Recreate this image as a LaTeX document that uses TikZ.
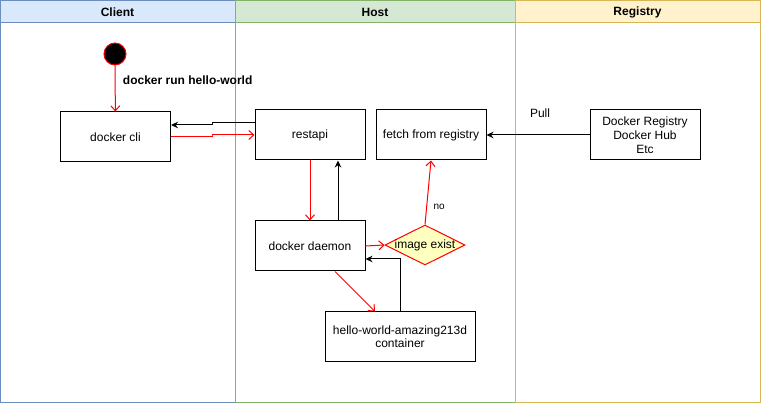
\documentclass[tikz,border=0pt]{standalone}
\usepackage{fontspec}
\setmainfont{Liberation Sans}
\usetikzlibrary{arrows.meta,positioning,shapes.geometric}
\definecolor{clientfill}{HTML}{DAE8FC}
\definecolor{clientline}{HTML}{6C8EBF}
\definecolor{hostfill}{HTML}{D5E8D4}
\definecolor{hostline}{HTML}{82B366}
\definecolor{regfill}{HTML}{FFF2CC}
\definecolor{regline}{HTML}{D6B656}
\definecolor{decfill}{HTML}{FFFFC0}

\begin{document}
\begin{tikzpicture}[x=1pt,y=-1pt,line width=1pt,
                    font=\fontsize{12}{14}\selectfont]
  \tikzstyle{box}=[draw=black,fill=white,minimum width=110pt,minimum height=50pt,
                   inner sep=2pt,align=center]
  \tikzstyle{head}=[font=\fontsize{12}{14}\selectfont\bfseries]
  \tikzstyle{go}=[draw=red,-{Straight Barb[length=5pt,width=9pt]}]
  \tikzstyle{back}=[draw=black,-{Stealth[length=7pt,width=6.5pt]}]

  \useasboundingbox (0,0) rectangle (761,403);

  % swimlanes
  \draw[clientline,fill=white] (0.5,0.5) rectangle (235,402.5);
  \draw[clientline,fill=clientfill] (0.5,0.5) rectangle (235,23);
  \draw[hostline,fill=white] (235,0.5) rectangle (515,402.5);
  \draw[hostline,fill=hostfill] (235,0.5) rectangle (515,23);
  \draw[regline,fill=white] (515,0.5) rectangle (760.5,402.5);
  \draw[regline,fill=regfill] (515,0.5) rectangle (760.5,23);
  \node[head] (clienthead) at (117.5,12) {Client};
  \node[head] (hosthead)   at (375,12)   {Host};
  \node[head] (reghead)    at (637.5,12) {Registry};

  % nodes
  \node[circle,draw=red,fill=black,minimum size=22pt,inner sep=0pt] (start) at (115,54) {};
  \node[box] (cli)       at (115.5,137) {docker cli};
  \node[box] (restapi)   at (310,135)   {restapi};
  \node[box] (fetch)     [right=10pt of restapi] {fetch from registry};
  \node[box] (daemon)    [below=60pt of restapi] {docker daemon};
  \node[box] (registry)  at (645,135)   {Docker Registry\\Docker Hub\\Etc};
  \node[box,minimum width=150pt] (container) at (400,337)
        {hello-world-amazing213d\\[-1pt]container};
  \node[diamond,draw=red,fill=decfill,minimum width=80pt,minimum height=40pt,
        inner sep=0pt,label=center:{image exist}] (exist) at (425,245) {};

  % connectors
  \draw[go] (start) -- node[pos=0.32,right=4pt,font=\fontsize{12}{14}\selectfont\bfseries]
        {docker run hello-world} (cli);
  \draw[back] ([yshift=12pt]restapi.west) -| (212,124) |- ([yshift=12pt]cli.east);
  \draw[go] (cli.east) -| (212,136) |- (restapi.west);
  \draw[go] (restapi) -- (daemon);
  \draw[back] ([xshift=28pt]daemon.north) -- ([xshift=28pt]restapi.south);
  \draw[go] (daemon.east) -- (exist.west);
  \draw[go] (exist.north) -- node[pos=0.28,right=3pt,font=\fontsize{10}{12}\selectfont] {no}
        (fetch.south);
  \draw[back] (registry.west) -- node[pos=0.48,above=14pt] {Pull} (fetch.east);
  \draw[go] ([xshift=25pt]daemon.south) -- ([xshift=-25pt]container.north);
  \draw[back] (container.north) |- ([yshift=-13pt]daemon.east);
\end{tikzpicture}
\end{document}
